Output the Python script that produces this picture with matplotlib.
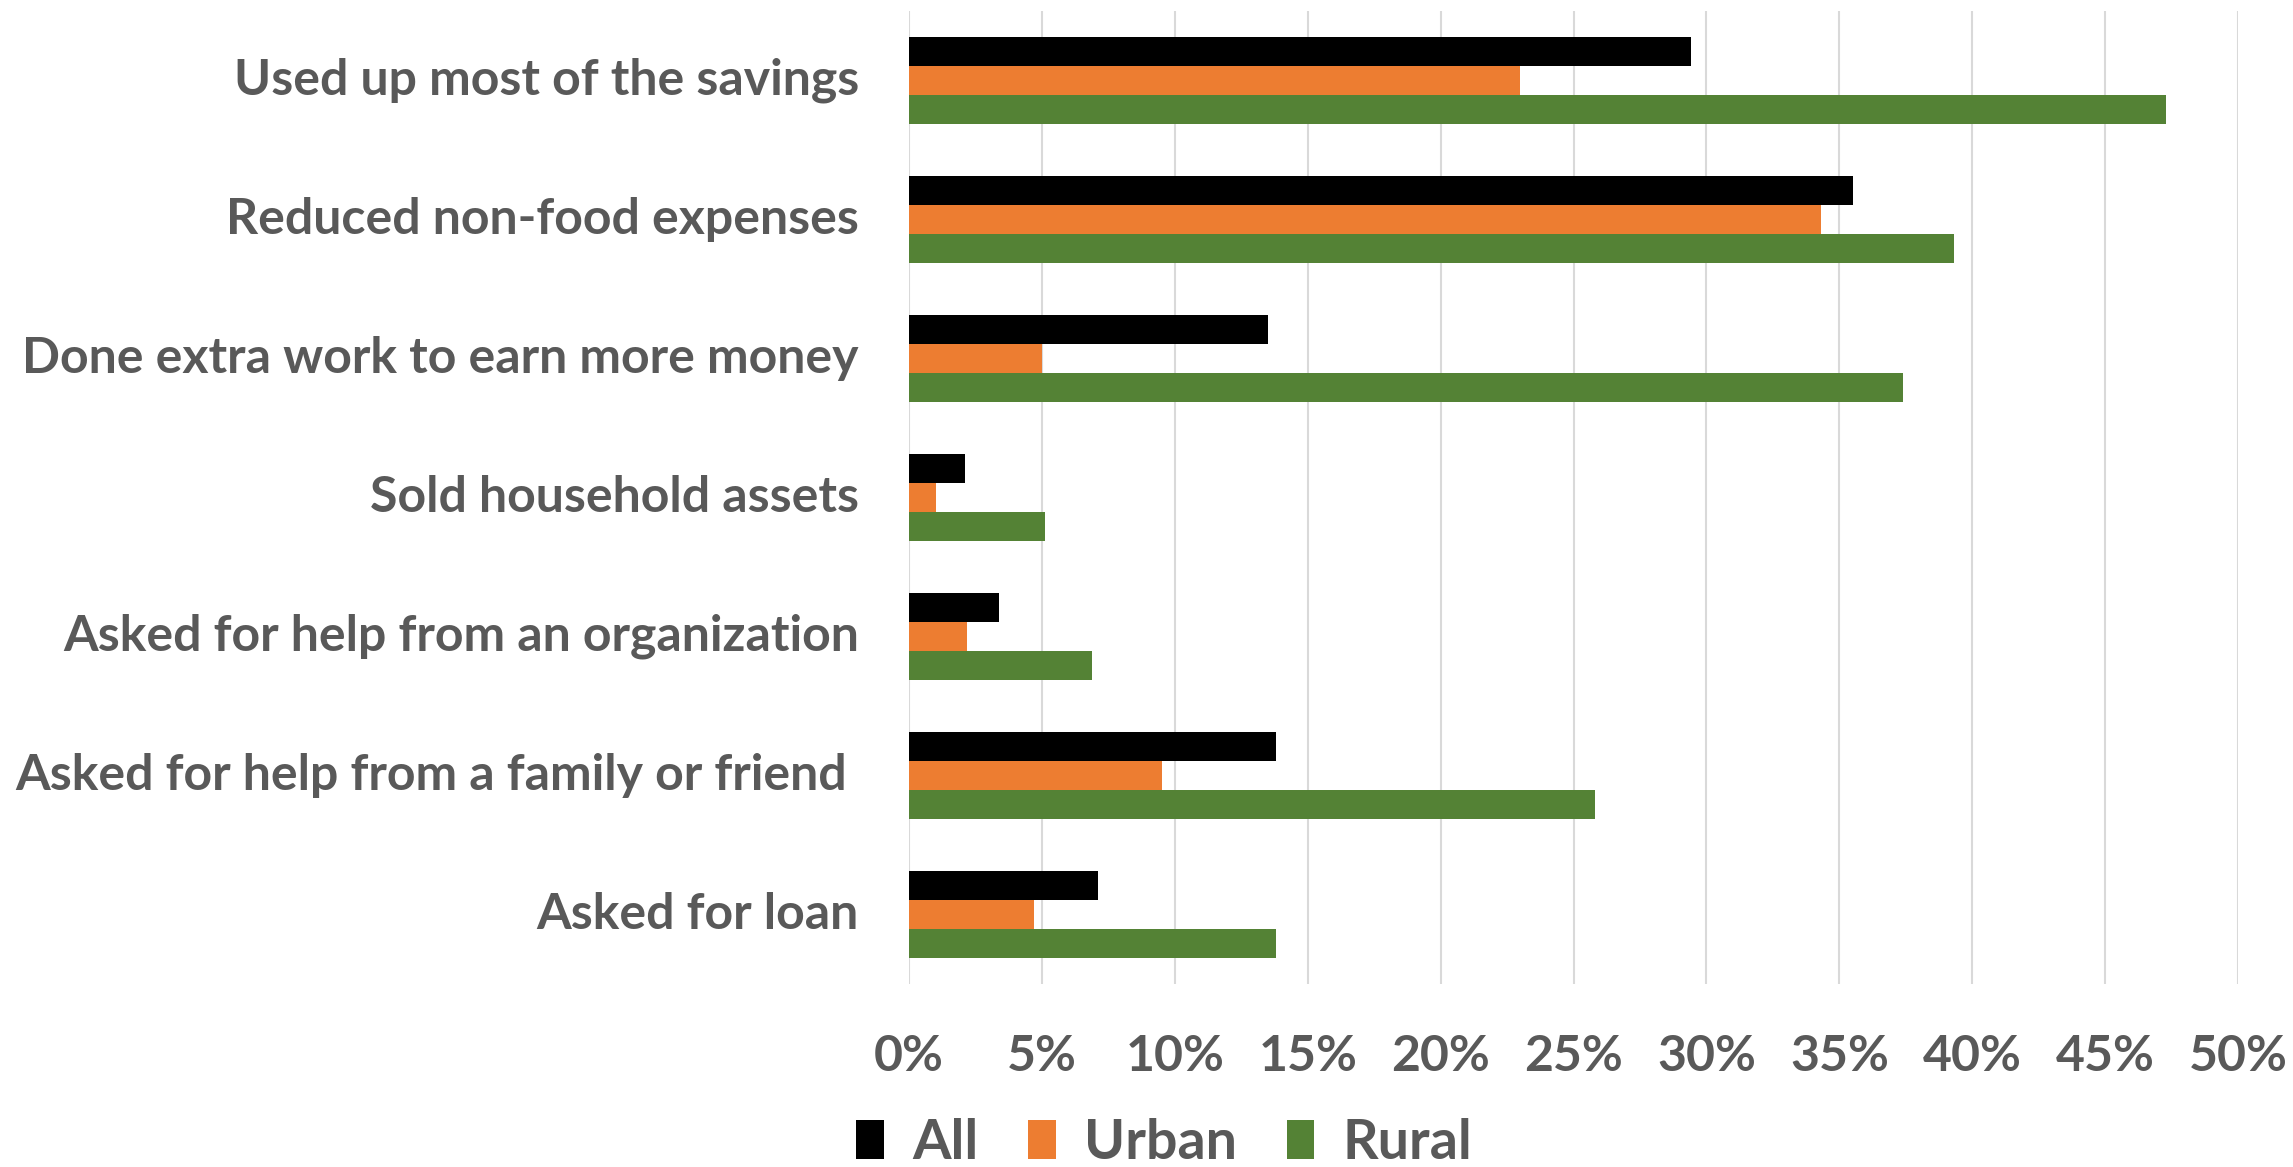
import numpy as np
import matplotlib.pyplot as plt
import matplotlib.transforms as mtransforms
from matplotlib.patches import Patch

# coping strategies, share of households
categories = ['Used up most of the savings',
              'Reduced non-food expenses',
              'Done extra work to earn more money',
              'Sold household assets',
              'Asked for help from an organization',
              'Asked for help from a family or friend ',
              'Asked for loan']
all_hh = [0.294, 0.355, 0.135, 0.021, 0.034, 0.138, 0.071]
urban = [0.230, 0.343, 0.050, 0.010, 0.022, 0.095, 0.047]
rural = [0.473, 0.393, 0.374, 0.051, 0.069, 0.258, 0.138]

series = [('All', all_hh, '#000000'),
          ('Urban', urban, '#ED7D31'),
          ('Rural', rural, '#548235')]

plt.rcParams['font.family'] = ['Lato', 'DejaVu Sans']
plt.rcParams['font.weight'] = 'bold'
txt = '#595959'

fig = plt.figure(figsize=(22.93, 11.67), dpi=100)
ax = fig.add_axes([0.3964, 0.157, 0.5797, 0.8337])

y = np.arange(len(categories))
h = 0.208
for i, (name, vals, col) in enumerate(series):
    ax.barh(y + (i - 1) * h, vals, height=h, color=col, label=name, zorder=3)

ax.set_xlim(0, 0.5)
ax.set_ylim(len(categories) - 0.5, -0.5)
xt = np.arange(0, 0.501, 0.05)
ax.set_xticks(xt)
ax.set_xticklabels([f'{int(round(v * 100))}%' for v in xt])
ax.set_yticks(y)
ax.set_yticklabels(categories)
ax.tick_params(axis='both', length=0, labelsize=36, labelcolor=txt)
ax.tick_params(axis='x', pad=36)
ax.tick_params(axis='y', pad=36)
# nudge category labels up a little
shift = mtransforms.ScaledTranslation(0, 3 / 72, fig.dpi_scale_trans)
for lbl in ax.get_yticklabels():
    lbl.set_transform(lbl.get_transform() + shift)
for lbl in ax.get_xticklabels() + ax.get_yticklabels():
    lbl.set_fontweight('bold')

ax.grid(axis='x', color='#D9D9D9', linewidth=1.5, zorder=0)
for s in ax.spines.values():
    s.set_visible(False)

handles = [Patch(facecolor=c, edgecolor='none', label=n) for n, _, c in series]
leg = fig.legend(handles=handles, loc='center', bbox_to_anchor=(0.5077, 0.0203),
                 ncol=3, frameon=False, fontsize=40, handlelength=0.5,
                 handleheight=0.7, handletextpad=0.5, columnspacing=0.9,
                 borderpad=0, borderaxespad=0)
for t in leg.get_texts():
    t.set_color(txt)
    t.set_fontweight('bold')

fig.savefig('out.png', dpi=100)
